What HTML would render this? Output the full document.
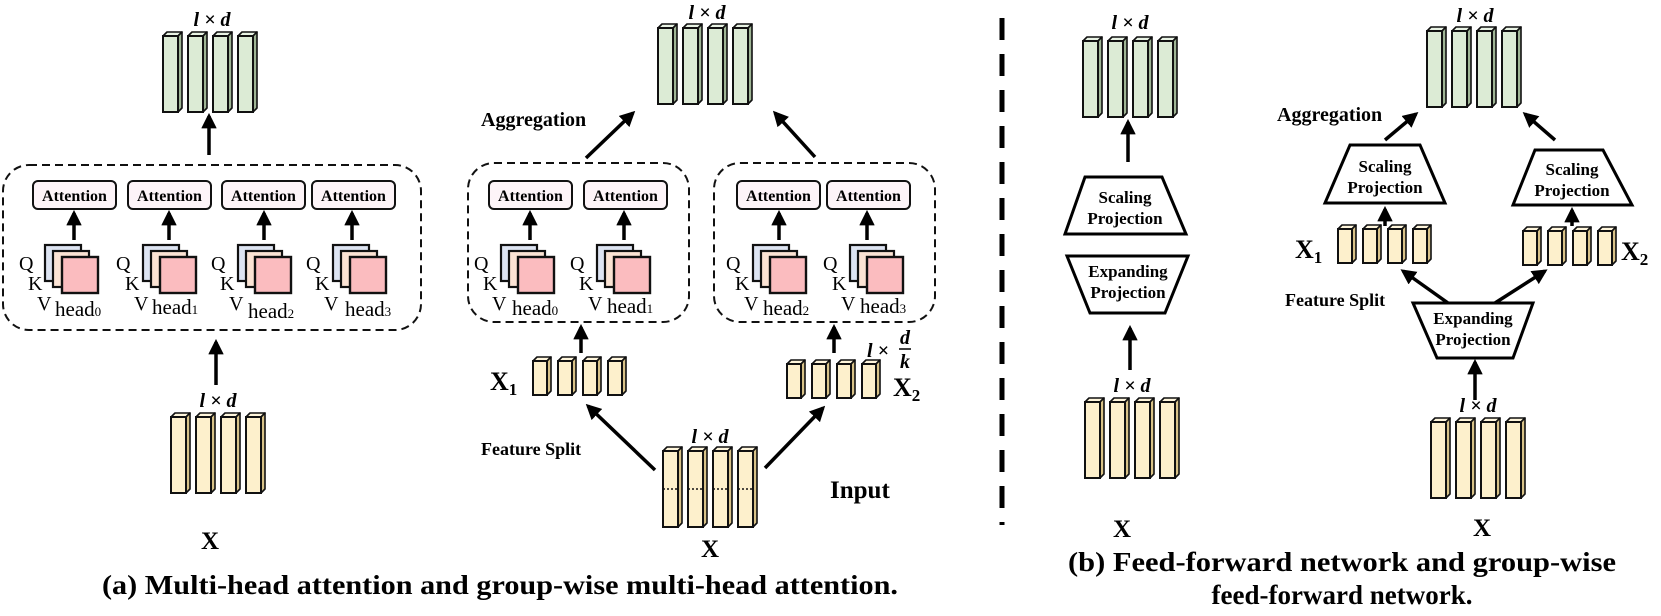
<!DOCTYPE html>
<html><head><meta charset="utf-8">
<style>
html,body{margin:0;padding:0;background:#fff;}
svg{display:block;}
text{font-family:"Liberation Serif",serif;fill:#000;}
.b{font-weight:bold;}
.att{font-weight:bold;font-size:16px;}
.lab{font-size:20px;}
.hd{font-size:21px;}
.sub{font-size:13px;}
.math{font-style:italic;font-weight:bold;font-size:20px;}
.tp{font-weight:bold;font-size:17px;}
</style></head>
<body>
<svg width="1661" height="616" viewBox="0 0 1661 616" xmlns="http://www.w3.org/2000/svg">
<defs>
  <marker id="ah" viewBox="0 0 10 10" refX="8" refY="5" markerWidth="4.4" markerHeight="4.4" orient="auto-start-reverse" markerUnits="strokeWidth">
    <path d="M0,0 L10,5 L0,10 z" fill="#000"/>
  </marker>
  <g id="gbar">
    <path d="M0,4 L4,0 L19,0 L15,4 Z" fill="#e9f3e4" stroke="#111" stroke-width="1.6" stroke-linejoin="round"/>
    <path d="M15,4 L19,0 L19,76 L15,80 Z" fill="#9fb595" stroke="#111" stroke-width="1.6" stroke-linejoin="round"/>
    <rect x="0" y="4" width="15" height="76" fill="#dcebd5" stroke="#111" stroke-width="2"/>
  </g>
  <g id="ybar">
    <path d="M0,4 L4,0 L19,0 L15,4 Z" fill="#fff6dc" stroke="#111" stroke-width="1.6" stroke-linejoin="round"/>
    <path d="M15,4 L19,0 L19,76 L15,80 Z" fill="#d8c288" stroke="#111" stroke-width="1.6" stroke-linejoin="round"/>
    <rect x="0" y="4" width="15" height="76" fill="#fdf0cc" stroke="#111" stroke-width="2"/>
  </g>
  <g id="sbar">
    <path d="M0,4 L4,0 L18,0 L14,4 Z" fill="#fff6dc" stroke="#111" stroke-width="1.6" stroke-linejoin="round"/>
    <path d="M14,4 L18,0 L18,34 L14,38 Z" fill="#d8c288" stroke="#111" stroke-width="1.6" stroke-linejoin="round"/>
    <rect x="0" y="4" width="14" height="34" fill="#fdf0cc" stroke="#111" stroke-width="2"/>
  </g>
  <g id="g4"><use href="#gbar" x="0"/><use href="#gbar" x="25"/><use href="#gbar" x="50"/><use href="#gbar" x="75"/></g>
  <g id="y4"><use href="#ybar" x="0"/><use href="#ybar" x="25"/><use href="#ybar" x="50"/><use href="#ybar" x="75"/></g>
  <g id="s4"><use href="#sbar" x="0"/><use href="#sbar" x="25"/><use href="#sbar" x="50"/><use href="#sbar" x="75"/></g>
  <g id="head">
    <rect x="0" y="0" width="36" height="36" fill="#dde4f2" stroke="#111" stroke-width="2.2"/>
    <rect x="8" y="6" width="36" height="36" fill="#fbe3d4" stroke="#111" stroke-width="2.2"/>
    <rect x="17" y="12" width="36" height="36" fill="#fbbcbf" stroke="#111" stroke-width="2.4"/>
  </g>
  <g id="attn">
    <rect x="0" y="0" width="83" height="28" rx="5" fill="#fdf4f8" stroke="#111" stroke-width="2"/>
    <text x="41.5" y="20" text-anchor="middle" class="att">Attention</text>
  </g>
</defs>

<g stroke="#000" stroke-width="3.5" marker-end="url(#ah)" fill="none">
  <line x1="209" y1="155" x2="209" y2="116"/>
  <line x1="216" y1="385" x2="216" y2="342"/>
  <line x1="74" y1="240" x2="74" y2="213"/>
  <line x1="169" y1="240" x2="169" y2="213"/>
  <line x1="264" y1="240" x2="264" y2="213"/>
  <line x1="352" y1="240" x2="352" y2="213"/>
  <line x1="530" y1="240" x2="530" y2="213"/>
  <line x1="624" y1="240" x2="624" y2="213"/>
  <line x1="779" y1="240" x2="779" y2="213"/>
  <line x1="867" y1="240" x2="867" y2="213"/>
  <line x1="586" y1="158" x2="633" y2="113"/>
  <line x1="815" y1="157" x2="775" y2="113"/>
  <line x1="581" y1="353" x2="581" y2="327"/>
  <line x1="834" y1="353" x2="834" y2="327"/>
  <line x1="655" y1="470" x2="588" y2="406"/>
  <line x1="765" y1="468" x2="823" y2="408"/>
  <line x1="1128" y1="162" x2="1128" y2="122"/>
  <line x1="1130" y1="370" x2="1130" y2="328"/>
  <line x1="1385" y1="140" x2="1416" y2="114"/>
  <line x1="1555" y1="140" x2="1525" y2="114"/>
  <line x1="1385" y1="226" x2="1385" y2="209"/>
  <line x1="1572" y1="226" x2="1572" y2="210"/>
  <line x1="1448" y1="303" x2="1403" y2="271"/>
  <line x1="1495" y1="303" x2="1545" y2="271"/>
  <line x1="1475" y1="400" x2="1475" y2="362"/>
</g>

<g fill="none" stroke="#111" stroke-width="2" stroke-dasharray="8,5">
  <rect x="3" y="165" width="418" height="165" rx="26"/>
  <rect x="468" y="163" width="221" height="159" rx="26"/>
  <rect x="714" y="163" width="221" height="159" rx="26"/>
</g>
<line x1="1002" y1="18" x2="1002" y2="525" stroke="#000" stroke-width="5" stroke-dasharray="22,14"/>

<!-- LEFT -->
<text x="212" y="26" text-anchor="middle" class="math">l × d</text>
<use href="#g4" x="163" y="32"/>
<use href="#attn" x="33" y="181"/>
<use href="#attn" x="128" y="181"/>
<use href="#attn" x="222" y="181"/>
<use href="#attn" x="312" y="181"/>
<use href="#head" x="45" y="245"/>
<use href="#head" x="143" y="245"/>
<use href="#head" x="238" y="245"/>
<use href="#head" x="333" y="245"/>
<g class="lab">
<text x="19" y="270">Q</text><text x="28" y="290">K</text><text x="37" y="310">V</text>
<text x="116" y="270">Q</text><text x="125" y="290">K</text><text x="134" y="310">V</text>
<text x="211" y="270">Q</text><text x="220" y="290">K</text><text x="229" y="310">V</text>
<text x="306" y="270">Q</text><text x="315" y="290">K</text><text x="324" y="310">V</text>
</g>
<text x="55" y="316" class="hd">head<tspan class="sub">0</tspan></text>
<text x="152" y="314" class="hd">head<tspan class="sub">1</tspan></text>
<text x="248" y="318" class="hd">head<tspan class="sub">2</tspan></text>
<text x="345" y="316" class="hd">head<tspan class="sub">3</tspan></text>
<text x="218" y="407" text-anchor="middle" class="math">l × d</text>
<use href="#y4" x="171" y="413"/>
<text x="210" y="549" text-anchor="middle" class="b" font-size="25">X</text>

<!-- MIDDLE -->
<text x="707" y="19" text-anchor="middle" class="math">l × d</text>
<use href="#g4" x="658" y="24"/>
<text x="481" y="126" class="b" font-size="20">Aggregation</text>
<use href="#attn" x="489" y="181"/>
<use href="#attn" x="584" y="181"/>
<use href="#attn" x="737" y="181"/>
<use href="#attn" x="827" y="181"/>
<use href="#head" x="501" y="245"/>
<use href="#head" x="597" y="245"/>
<use href="#head" x="753" y="245"/>
<use href="#head" x="850" y="245"/>
<g class="lab">
<text x="474" y="270">Q</text><text x="483" y="290">K</text><text x="492" y="310">V</text>
<text x="570" y="270">Q</text><text x="579" y="290">K</text><text x="588" y="310">V</text>
<text x="726" y="270">Q</text><text x="735" y="290">K</text><text x="744" y="310">V</text>
<text x="823" y="270">Q</text><text x="832" y="290">K</text><text x="841" y="310">V</text>
</g>
<text x="512" y="315" class="hd">head<tspan class="sub">0</tspan></text>
<text x="607" y="313" class="hd">head<tspan class="sub">1</tspan></text>
<text x="763" y="315" class="hd">head<tspan class="sub">2</tspan></text>
<text x="860" y="313" class="hd">head<tspan class="sub">3</tspan></text>
<text x="490" y="390" class="b" font-size="26" font-family="Liberation Sans">X<tspan font-size="17" dy="5">1</tspan></text>
<use href="#s4" x="533" y="357"/>
<use href="#s4" x="787" y="360"/>
<text x="867" y="357" class="math">l ×</text>
<text x="905" y="344" text-anchor="middle" class="math">d</text>
<line x1="899" y1="349" x2="911" y2="349" stroke="#000" stroke-width="1.5"/>
<text x="905" y="368" text-anchor="middle" class="math">k</text>
<text x="893" y="396" class="b" font-size="26" font-family="Liberation Sans">X<tspan font-size="17" dy="5">2</tspan></text>
<text x="481" y="455" class="b" font-size="18">Feature Split</text>
<text x="710" y="443" text-anchor="middle" class="math">l × d</text>
<use href="#y4" x="663" y="447"/>
<g stroke="#111" stroke-width="1.6" stroke-dasharray="2,2">
<line x1="663" y1="489" x2="678" y2="489"/><line x1="688" y1="489" x2="703" y2="489"/>
<line x1="713" y1="489" x2="728" y2="489"/><line x1="738" y1="489" x2="753" y2="489"/>
</g>
<text x="830" y="498" class="b" font-size="25">Input</text>
<text x="710" y="557" text-anchor="middle" class="b" font-size="25">X</text>

<!-- FFN -->
<text x="1130" y="29" text-anchor="middle" class="math">l × d</text>
<use href="#g4" x="1083" y="37"/>
<polygon points="1085,177 1162,177 1186,234 1065,234" fill="#fff" stroke="#000" stroke-width="3"/>
<text x="1125" y="203" text-anchor="middle" class="tp">Scaling</text>
<text x="1125" y="224" text-anchor="middle" class="tp">Projection</text>
<polygon points="1067,256 1188,256 1165,313 1090,313" fill="#fff" stroke="#000" stroke-width="3"/>
<text x="1128" y="277" text-anchor="middle" class="tp">Expanding</text>
<text x="1128" y="298" text-anchor="middle" class="tp">Projection</text>
<text x="1132" y="392" text-anchor="middle" class="math">l × d</text>
<use href="#y4" x="1085" y="398"/>
<text x="1122" y="537" text-anchor="middle" class="b" font-size="25">X</text>

<!-- Group FFN -->
<text x="1475" y="22" text-anchor="middle" class="math">l × d</text>
<use href="#g4" x="1427" y="27"/>
<text x="1277" y="121" class="b" font-size="20">Aggregation</text>
<polygon points="1350,145 1420,145 1445,203 1325,203" fill="#fff" stroke="#000" stroke-width="3"/>
<text x="1385" y="172" text-anchor="middle" class="tp">Scaling</text>
<text x="1385" y="193" text-anchor="middle" class="tp">Projection</text>
<polygon points="1535,150 1603,150 1632,205 1513,205" fill="#fff" stroke="#000" stroke-width="3"/>
<text x="1572" y="175" text-anchor="middle" class="tp">Scaling</text>
<text x="1572" y="196" text-anchor="middle" class="tp">Projection</text>
<use href="#s4" x="1338" y="225"/>
<use href="#s4" x="1523" y="227"/>
<text x="1295" y="258" class="b" font-size="26" font-family="Liberation Sans">X<tspan font-size="17" dy="5">1</tspan></text>
<text x="1621" y="260" class="b" font-size="26" font-family="Liberation Sans">X<tspan font-size="17" dy="5">2</tspan></text>
<text x="1285" y="306" class="b" font-size="18">Feature Split</text>
<polygon points="1413,303 1533,303 1513,358 1437,358" fill="#fff" stroke="#000" stroke-width="3"/>
<text x="1473" y="324" text-anchor="middle" class="tp">Expanding</text>
<text x="1473" y="345" text-anchor="middle" class="tp">Projection</text>
<text x="1478" y="412" text-anchor="middle" class="math">l × d</text>
<use href="#y4" x="1431" y="418"/>
<text x="1482" y="536" text-anchor="middle" class="b" font-size="25">X</text>

<!-- captions -->
<text x="102" y="594" class="b" font-size="27" textLength="796" lengthAdjust="spacingAndGlyphs">(a) Multi-head attention and group-wise multi-head attention.</text>
<text x="1068" y="571" class="b" font-size="27" textLength="548" lengthAdjust="spacingAndGlyphs">(b) Feed-forward network and group-wise</text>
<text x="1342" y="604" text-anchor="middle" class="b" font-size="27">feed-forward network.</text>
</svg>
</body></html>
